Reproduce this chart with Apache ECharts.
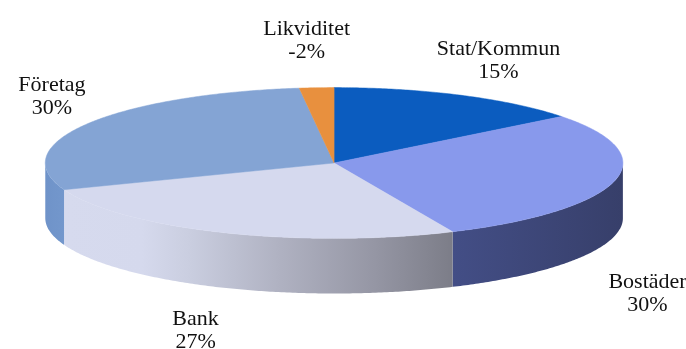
<!DOCTYPE html>
<html>
<head>
<meta charset="utf-8">
<script src="https://cdn.jsdelivr.net/npm/echarts@6/dist/echarts.min.js"></script>
<style>
  html, body { margin: 0; padding: 0; background: #ffffff; }
  #chart { width: 686px; height: 349px; }
</style>
</head>
<body>
<div id="chart"></div>
<script>
// Sector shares in percent, clockwise from 12 o'clock
const categories = ['Stat/Kommun', 'Bostäder', 'Bank', 'Företag', 'Likviditet'];
const shares = [15, 30, 27, 30, -2];

// Colours of the top faces and of the visible outer walls
const topColors = ['#0b5cbf', '#8899ec', '#d5d9ee', '#84a4d4', '#e8903e'];
const sideStops = [
  [[0, '#0a4a9a'], [1, '#0a4a9a']],
  [[0, '#434e86'], [1, '#373f6a']],
  [[0, '#d6daee'], [0.2, '#d5d9ed'], [0.32, '#cacee0'], [0.55, '#b0b2c2'], [0.8, '#9596a4'], [1, '#7c7d88']],
  [[0, '#6f93c9'], [1, '#7397cc']],
  [[0, '#c47530'], [1, '#c47530']]
];
// Label placement relative to the rim point at the middle of each sector
const labelOffsets = [[38, -34], [33, 113], [-28, 98], [-35, -27], [-10, -47]];

const chart = echarts.init(document.getElementById('chart'), null, { renderer: 'canvas' });

const total = shares.reduce((s, v) => s + Math.abs(v), 0);
const starts = [];
let acc = 0;
shares.forEach(v => { starts.push(acc / total * Math.PI * 2); acc += Math.abs(v); });

function renderItem(params, api) {
  const i = params.dataIndex;
  const W = api.getWidth(), H = api.getHeight();
  const cx = W * 0.487, cy = H * 0.467;
  const rx = W * 0.421, ry = H * 0.216, depth = H * 0.158;
  const value = api.value(0);
  const t0 = starts[i];
  const t1 = t0 + Math.abs(value) / total * Math.PI * 2;
  const pt = (t, dy) => [cx + rx * Math.sin(t), cy - ry * Math.cos(t) + dy];
  const arc = (a, b, dy) => {
    const n = Math.max(2, Math.ceil(Math.abs(b - a) / 0.01));
    const out = [];
    for (let k = 0; k <= n; k++) out.push(pt(a + (b - a) * k / n, dy));
    return out;
  };
  const children = [];

  // outer wall: only the front half of the rim is visible
  const s = Math.max(t0, Math.PI / 2), e = Math.min(t1, Math.PI * 1.5);
  if (e > s) {
    const pts = arc(s, e, 0).concat(arc(e, s, depth));
    const xs = pts.map(p => p[0]);
    children.push({
      type: 'polygon',
      z2: 1,
      shape: { points: pts },
      style: {
        fill: {
          type: 'linear', global: true,
          x: Math.min(...xs), y: 0, x2: Math.max(...xs), y2: 0,
          colorStops: sideStops[i].map(c => ({ offset: c[0], color: c[1] }))
        },
        stroke: null
      }
    });
  }

  // top face
  children.push({
    type: 'polygon',
    z2: 2,
    shape: { points: [[cx, cy]].concat(arc(t0, t1, 0)) },
    style: { fill: topColors[i], stroke: topColors[i], lineWidth: 0.5 }
  });

  // label
  const m = (t0 + t1) / 2;
  const anchor = pt(m, 0);
  children.push({
    type: 'text',
    z2: 3,
    x: anchor[0] + labelOffsets[i][0],
    y: anchor[1] + labelOffsets[i][1],
    style: {
      text: categories[i] + '\n' + value + '%',
      font: '22px "Liberation Serif", serif',
      fill: '#111111',
      align: 'center',
      verticalAlign: 'middle',
      lineHeight: 23
    }
  });

  return { type: 'group', children: children };
}

chart.setOption({
  animation: false,
  backgroundColor: '#ffffff',
  series: [{
    type: 'custom',
    coordinateSystem: 'none',
    renderItem: renderItem,
    data: shares.map(v => [v])
  }]
});
</script>
</body>
</html>
